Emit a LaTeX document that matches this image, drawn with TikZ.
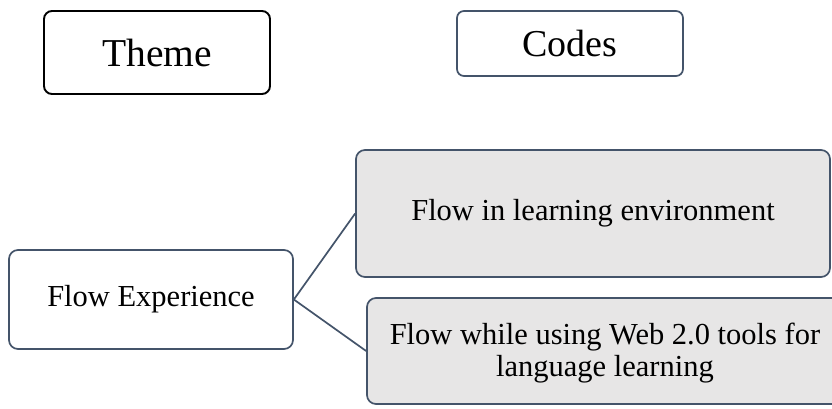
\documentclass[tikz,border=0pt]{standalone}
\usepackage{fontspec}
\setmainfont{Liberation Serif}
\definecolor{edgeblue}{HTML}{44546A}
\definecolor{boxgray}{HTML}{E7E6E6}
\tikzset{
  headbox/.style={draw=black, line width=1.9pt, rounded corners=8pt, fill=white, inner sep=0pt, align=center, font=\fontsize{39.5}{44}\selectfont},
  codehead/.style={draw=edgeblue, line width=1.7pt, rounded corners=7pt, fill=white, inner sep=0pt, align=center, font=\fontsize{38}{44}\selectfont},
  themebox/.style={draw=edgeblue, line width=1.7pt, rounded corners=9pt, fill=white, inner sep=0pt, align=center, font=\fontsize{30.5}{32}\selectfont},
  codebox/.style={draw=edgeblue, line width=1.7pt, rounded corners=9pt, fill=boxgray, inner sep=0pt, align=center, font=\fontsize{30.5}{32}\selectfont},
  link/.style={draw=edgeblue, line width=1.7pt}
}
\begin{document}
\begin{tikzpicture}[x=1pt,y=-1pt]
\clip (0,0) rectangle (832,408);
\fill[white] (0,0) rectangle (832,408);
\node[headbox, minimum width=226pt, minimum height=83pt] (theme) at (157,52.5) {Theme};
\node[codehead, minimum width=226pt, minimum height=65pt] (codes) at (570,43.5) {Codes};
\node[themebox, minimum width=284pt, minimum height=99pt] (flow) at (151,299.5) {Flow Experience};
\node[codebox, minimum width=474pt, minimum height=127pt] (learn) at (593,213.5) {Flow in learning environment};
\node[codebox, minimum width=476pt, minimum height=106pt] (web) at (605,351) {\rule{0pt}{26pt}Flow while using Web 2.0 tools for\\language learning};
\draw[link] (flow.east) -- (learn.west);
\draw[link] (flow.east) -- (web.west);
\end{tikzpicture}
\end{document}
